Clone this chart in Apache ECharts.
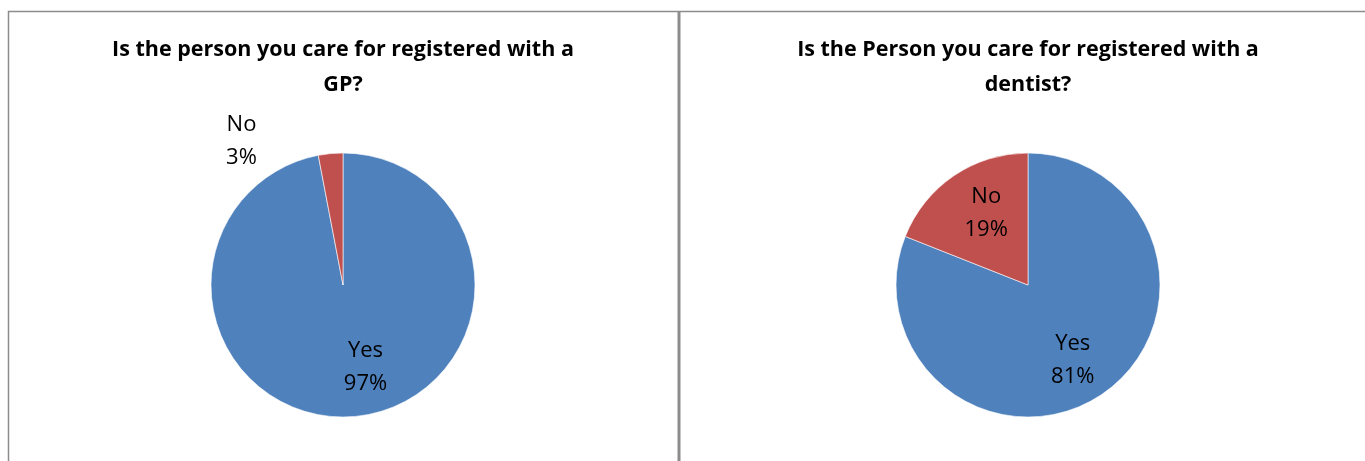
<!DOCTYPE html>
<html>
<head>
    <meta charset="utf-8">
    <style>
        html, body {
            width: 100%;
            height: 100%;
            margin: 0;
            background: #fff;
        }

        #chart-panel {
            width: 1365px;
            height: 461px;
        }
    </style>
    <script src="https://cdn.jsdelivr.net/npm/echarts@6/dist/echarts.min.js"></script>
</head>
<body>
<div id="chart-panel"></div>
<script type="text/javascript">
  // answers, in the order Excel draws them (clockwise from 12 o'clock)
  var categories = ['Yes', 'No'];
  var gpValues = [97, 3];
  var dentistValues = [81, 19];
  var gpTitle = 'Is the person you care for registered with a\nGP?';
  var dentistTitle = 'Is the Person you care for registered with a\ndentist?';

  var colors = ['#4f81bd', '#c0504d'];
  var labelFont = {fontFamily: 'Open Sans', fontSize: 22, lineHeight: 33, color: '#000'};

  function pieData(values, offsets) {
    return categories.map(function (name, i) {
      return {
        name: name,
        value: values[i],
        itemStyle: {color: colors[i]},
        label: {offset: offsets[i]}
      };
    });
  }

  function pieSeries(center, values, offsets) {
    return {
      type: 'pie',
      center: center,
      radius: 132,
      startAngle: 90,
      clockwise: true,
      silent: true,
      animation: false,
      itemStyle: {borderColor: '#fff', borderWidth: 0.6},
      label: Object.assign({
        show: true,
        position: 'inside',
        formatter: '{b}\n{c}%'
      }, labelFont),
      labelLine: {show: false},
      data: pieData(values, offsets)
    };
  }

  var titleStyle = {
    fontFamily: 'Open Sans',
    fontWeight: 'bold',
    fontSize: 21.5,
    lineHeight: 35,
    color: '#000'
  };

  var myChart = echarts.init(document.getElementById('chart-panel'));

  var option = {
    backgroundColor: '#fff',
    title: [{
      text: gpTitle,
      left: 343,
      top: 32,
      textAlign: 'center',
      padding: 0,
      textStyle: titleStyle
    }, {
      text: dentistTitle,
      left: 1028,
      top: 32,
      textAlign: 'center',
      padding: 0,
      textStyle: titleStyle
    }],
    // panel frames
    graphic: [{
      type: 'polyline',
      shape: {points: [[8.5, 470], [8.5, 11.5], [1370, 11.5]]},
      style: {stroke: '#8c8c8c', lineWidth: 1.5, fill: null}
    }, {
      type: 'line',
      shape: {x1: 679, y1: 11, x2: 679, y2: 470},
      style: {stroke: '#8c8c8c', lineWidth: 3}
    }],
    series: [
      pieSeries([343, 285], gpValues, [[16, 14], [-95, -75]]),
      pieSeries([1028, 285], dentistValues, [[6, 18], [-3, -15]])
    ]
  };

  myChart.setOption(option);
</script>
</body>
</html>
